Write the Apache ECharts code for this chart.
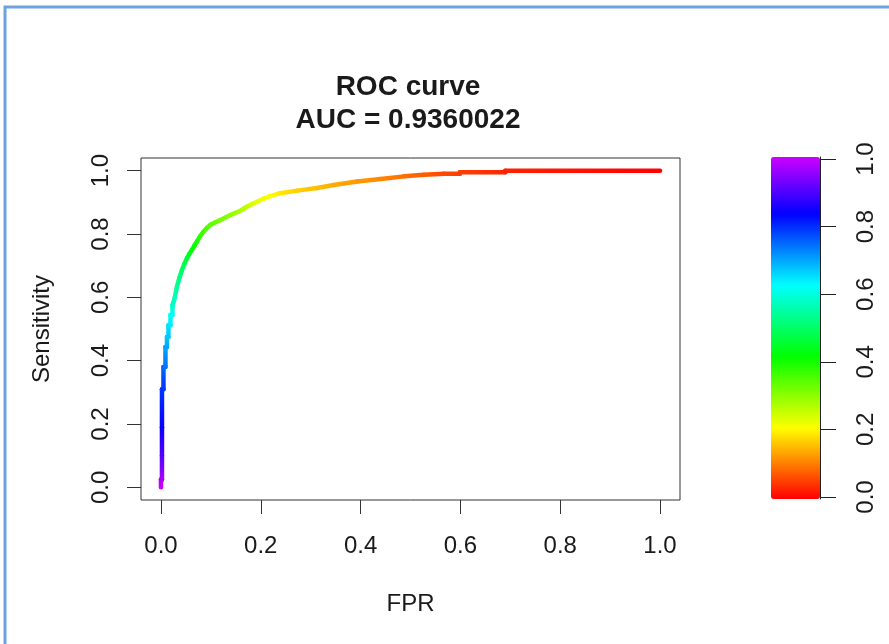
<!DOCTYPE html>
<html>
<head>
<meta charset="utf-8">
<script src="https://cdn.jsdelivr.net/npm/echarts@6/dist/echarts.min.js"></script>
<style>
  html, body { margin: 0; padding: 0; background: #fff; }
  #chart { width: 889px; height: 644px; }
</style>
</head>
<body>
<div id="chart"></div>
<script>
// ROC points: false positive rate, sensitivity, cutoff
const fpr = [0.000, 0.000, 0.002, 0.002, 0.002, 0.002, 0.005, 0.005, 0.009, 0.009,
  0.012, 0.012, 0.015, 0.015, 0.019, 0.019, 0.023, 0.023, 0.027, 0.032,
  0.037, 0.042, 0.047, 0.052, 0.057, 0.062, 0.067, 0.072, 0.078, 0.085,
  0.092, 0.099, 0.109, 0.119, 0.129, 0.139, 0.148, 0.156, 0.165, 0.173,
  0.183, 0.193, 0.206, 0.216, 0.239, 0.273, 0.313, 0.346, 0.393, 0.440,
  0.487, 0.527, 0.567, 0.599, 0.599, 0.690, 0.690, 1.000];
const tpr = [0.000, 0.025, 0.025, 0.100, 0.190, 0.310, 0.310, 0.380, 0.380, 0.443,
  0.443, 0.475, 0.475, 0.512, 0.512, 0.544, 0.544, 0.575, 0.595, 0.633,
  0.662, 0.686, 0.706, 0.723, 0.737, 0.750, 0.763, 0.776, 0.792, 0.807,
  0.819, 0.829, 0.837, 0.844, 0.852, 0.860, 0.866, 0.871, 0.879, 0.887,
  0.895, 0.902, 0.912, 0.918, 0.929, 0.937, 0.945, 0.955, 0.966, 0.974,
  0.982, 0.987, 0.990, 0.990, 0.995, 0.995, 1.000, 1.000];
const cutoff = [1.00, 0.98, 0.97, 0.90, 0.84, 0.79, 0.79, 0.75, 0.74, 0.70,
  0.70, 0.67, 0.67, 0.65, 0.64, 0.62, 0.62, 0.58, 0.57, 0.54,
  0.52, 0.50, 0.48, 0.46, 0.44, 0.42, 0.41, 0.40, 0.38, 0.36,
  0.35, 0.34, 0.33, 0.32, 0.31, 0.30, 0.29, 0.28, 0.27, 0.26,
  0.24, 0.23, 0.22, 0.21, 0.19, 0.17, 0.155, 0.14, 0.125, 0.11,
  0.09, 0.075, 0.06, 0.052, 0.05, 0.03, 0.028, 0.00];

const ticks = [0, 0.2, 0.4, 0.6, 0.8, 1.0];
const titleText = 'ROC curve\nAUC = 0.9360022';

// rainbow(start = 0, end = 4/5) like ROCR's colorize
function hueHex(h) {
  const f = (n) => {
    const k = (n + h / 60) % 6;
    const v = 1 - Math.max(0, Math.min(k, 4 - k, 1));
    return Math.round(v * 255).toString(16).padStart(2, '0');
  };
  return '#' + f(5) + f(3) + f(1);
}
const palette = [];
for (let k = 0; k <= 24; k++) palette.push(hueHex(k * 12));

const font = '"Liberation Sans", Arial, sans-serif';
const ink = '#1a1a1a';

const rows = fpr.map((v, i) => [v, tpr[i], cutoff[i]]);

const chart = echarts.init(document.getElementById('chart'));
chart.setOption({
  animation: false,
  backgroundColor: '#fff',
  textStyle: { fontFamily: font },
  title: {
    text: titleText,
    left: 408,
    top: 71,
    padding: 0,
    textAlign: 'center',
    textStyle: { fontSize: 28, fontWeight: 'bold', color: ink, lineHeight: 33, fontFamily: font }
  },
  graphic: [{
    type: 'rect',
    silent: true,
    shape: { x: 5, y: 7, width: 1000, height: 1000 },
    style: { fill: 'none', stroke: '#6ea2dc', lineWidth: 3 }
  }],
  grid: [
    { left: 141, top: 158, width: 539, height: 342, show: true, borderColor: '#333', borderWidth: 1, backgroundColor: 'transparent' },
    { left: 771, top: 157, width: 49, height: 342 }
  ],
  xAxis: [{
    type: 'value', min: -0.04, max: 1.04,
    name: 'FPR', nameLocation: 'middle', nameGap: 92,
    nameTextStyle: { fontSize: 24, color: ink, fontFamily: font },
    axisLine: { show: false, onZero: false },
    axisTick: { show: true, length: 14, customValues: ticks, lineStyle: { color: '#333' } },
    axisLabel: { customValues: ticks, formatter: v => v.toFixed(1), fontSize: 24, color: ink, margin: 34, fontFamily: font },
    splitLine: { show: false }
  }, {
    gridIndex: 1, type: 'value', show: false
  }],
  yAxis: [{
    type: 'value', min: -0.04, max: 1.04,
    name: 'Sensitivity', nameLocation: 'middle', nameGap: 87,
    nameTextStyle: { fontSize: 24, color: ink, fontFamily: font },
    axisLine: { show: false, onZero: false },
    axisTick: { show: true, length: 14, customValues: ticks, lineStyle: { color: '#333' } },
    axisLabel: { customValues: ticks, formatter: v => v.toFixed(1), fontSize: 24, color: ink, margin: 28, rotate: 90, fontFamily: font },
    splitLine: { show: false }
  }, {
    gridIndex: 1, type: 'value', min: -0.006, max: 1.006, position: 'right',
    axisLine: { show: true, onZero: false, lineStyle: { color: '#222' } },
    axisTick: { show: true, length: 16, customValues: ticks, lineStyle: { color: '#222' } },
    axisLabel: { customValues: ticks, formatter: v => v.toFixed(1), fontSize: 24, color: ink, margin: 34, rotate: 90, fontFamily: font },
    splitLine: { show: false },
    z: 10
  }],
  visualMap: {
    type: 'continuous',
    min: 0, max: 1,
    dimension: 2,
    seriesIndex: 0,
    orient: 'vertical',
    left: 771, top: 157,
    itemWidth: 49, itemHeight: 342,
    padding: 0,
    calculable: false,
    hoverLink: false,
    text: null,
    showLabel: false,
    z: 1,
    inRange: { color: palette }
  },
  series: [{
    type: 'custom',
    silent: true,
    xAxisIndex: 0, yAxisIndex: 0,
    dimensions: ['fpr', 'tpr', 'cutoff'],
    encode: { x: 0, y: 1 },
    data: rows,
    renderItem: function (params, api) {
      const i = params.dataIndexInside;
      if (i === 0) return null;
      const p0 = api.coord([api.value(0, i - 1), api.value(1, i - 1)]);
      const p1 = api.coord([api.value(0), api.value(1)]);
      const c0 = api.visual('color', i - 1);
      const c1 = api.visual('color');
      return {
        type: 'line',
        shape: { x1: p0[0], y1: p0[1], x2: p1[0], y2: p1[1] },
        style: {
          stroke: new echarts.graphic.LinearGradient(p0[0], p0[1], p1[0], p1[1],
            [{ offset: 0, color: c0 }, { offset: 1, color: c1 }], true),
          lineWidth: 4.5,
          lineCap: 'round'
        }
      };
    }
  }]
});
window.addEventListener('resize', () => chart.resize());
</script>
</body>
</html>
